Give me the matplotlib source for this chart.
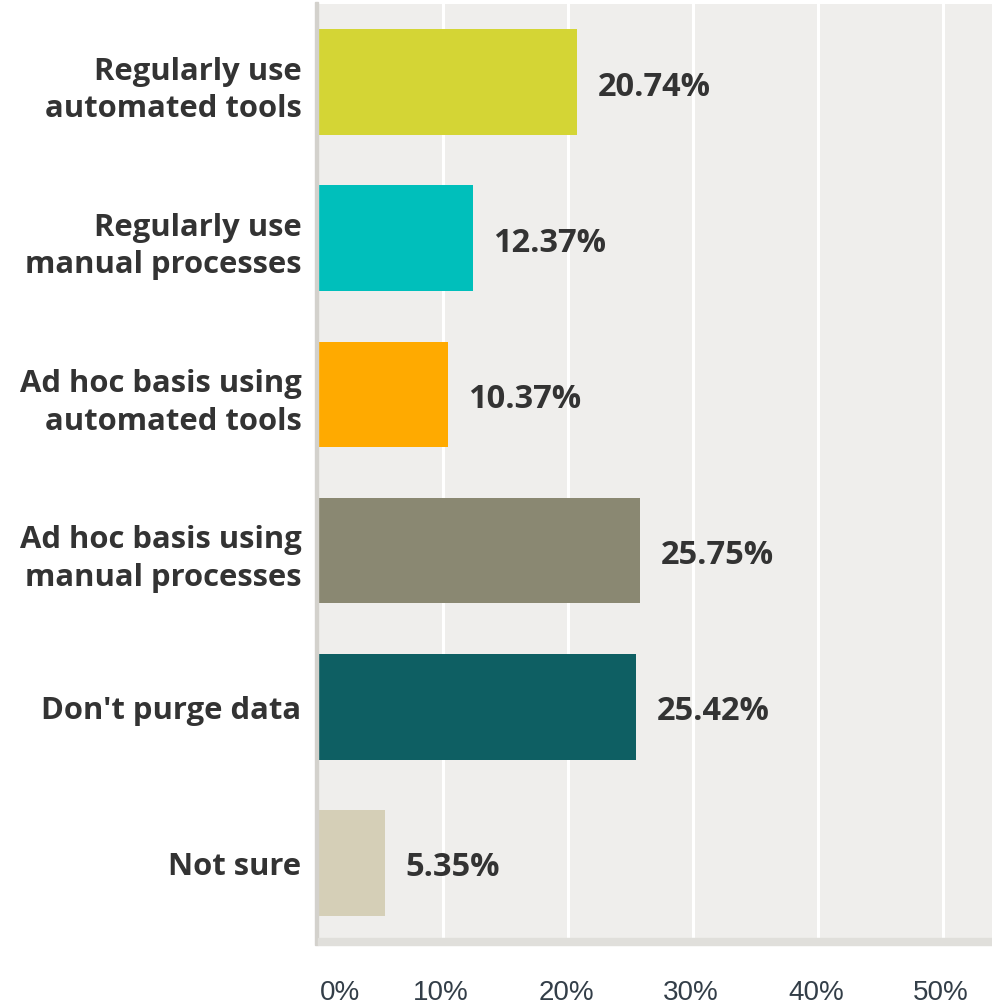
import matplotlib
matplotlib.use("Agg")
import matplotlib.pyplot as plt
from matplotlib.patches import Rectangle
from matplotlib.transforms import ScaledTranslation

categories = ["Regularly use\nautomated tools", "Regularly use\nmanual processes",
              "Ad hoc basis using\nautomated tools", "Ad hoc basis using\nmanual processes",
              "Don't purge data", "Not sure"]
values = [20.74, 12.37, 10.37, 25.75, 25.42, 5.35]
colors = ["#d4d535", "#00bfbb", "#ffaa00", "#8a8872", "#0e5f63", "#d5cfb7"]
xticks = [0, 10, 20, 30, 40, 50]
xticklabels = ["0%", "10%", "20%", "30%", "40%", "50%"]

W, H = 992, 1004
fig = plt.figure(figsize=(W / 100, H / 100), dpi=100)
fig.patch.set_facecolor("white")

left, right, top, bottom = 318, 992, 5, 942
ax = fig.add_axes([left / W, 1 - bottom / H, (right - left) / W, (bottom - top) / H])
ax.set_facecolor("#efeeec")

y = list(range(len(categories)))
ax.barh(y, values, height=0.676, color=colors, zorder=3)
ax.set_ylim(len(categories) - 0.5, -0.5)
ax.set_xlim(0, (right - left) / 12.5)

for xv in xticks[1:]:
    ax.axvline(xv, color="white", lw=2.2, zorder=1)

for s in ax.spines.values():
    s.set_visible(False)

ax.set_yticks(y)
ax.set_yticklabels(categories, fontsize=22.3, fontweight="bold", color="#333333",
                   family="Open Sans", linespacing=1.33)
ax.tick_params(axis="y", length=0, pad=12)
ax.set_xticks(xticks)
ax.set_xticklabels(xticklabels, fontsize=20, color="#333e48", family="Liberation Sans")
ax.tick_params(axis="x", length=0, pad=27)
xt = ax.get_xticklabels()
for i, lab in enumerate(xt):
    if i == 0:
        lab.set_ha("left")
        lab.set_transform(lab.get_transform() + ScaledTranslation(2 / 100, 0, fig.dpi_scale_trans))
    else:
        lab.set_transform(lab.get_transform() + ScaledTranslation(-2 / 100, 0, fig.dpi_scale_trans))

shift = ScaledTranslation(0, -4 / 100, fig.dpi_scale_trans)
for yi, v in zip(y, values):
    ax.text(v + 1.65, yi, f"{v:.2f}%", va="center", ha="left", fontsize=23.5,
            fontweight="bold", color="#333333", family="Open Sans", zorder=4,
            transform=ax.transData + shift)

# left spine band and bottom band
fig.add_artist(Rectangle(((left - 3) / W, 1 - 946 / H), 3 / W, (946 - 3) / H,
                         transform=fig.transFigure, color="#d3d1cc", zorder=5))
fig.add_artist(Rectangle((left / W, 1 - 946 / H), (right - left) / W, 7 / H,
                         transform=fig.transFigure, color="#e0dfdb", zorder=5))

fig.savefig("out.png", dpi=100, facecolor="white")
